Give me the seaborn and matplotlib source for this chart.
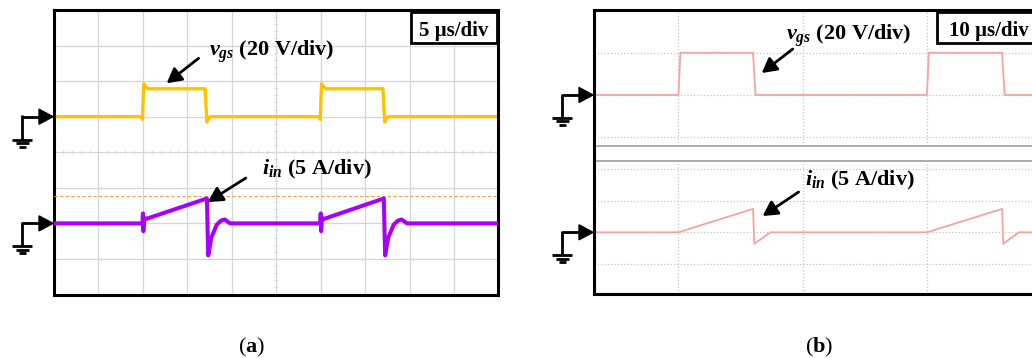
import numpy as np
import matplotlib
matplotlib.use("Agg")
import matplotlib.pyplot as plt
import seaborn as sns
from matplotlib.lines import Line2D
from matplotlib.patches import Polygon, Rectangle
from matplotlib.transforms import IdentityTransform

# ---------------- data ----------------
# (a) experimental waveforms, time in us
t_a_vgs = [0, 9.9, 9.95, 10.0, 10.1, 10.3, 10.6, 17.0, 17.1, 17.2, 17.35, 17.6,
           29.9, 29.95, 30.0, 30.1, 30.3, 30.6, 37.0, 37.1, 37.2, 37.35, 37.6, 50]
vgs_a = [0, 0, -1.5, 6, 18.5, 17, 15.7, 15.7, 6, -3, -1.2, 0,
         0, -1.5, 6, 18.5, 17, 15.7, 15.7, 6, -3, -1.2, 0, 0]          # V

t_a_iin = [0, 9.95, 10.0, 10.05, 10.15, 10.3, 17.2, 17.28, 17.35, 17.7, 18.3, 18.8, 19.2, 19.8,
           29.95, 30.0, 30.05, 30.15, 30.3, 37.1, 37.18, 37.25, 37.6, 38.2, 38.7, 39.1, 39.7, 50]
iin_a = [0, 0, 1.4, -1.1, 0.8, 0.6, 3.5, -1.0, -4.5, -2.0, -0.2, 0.4, 0.55, 0,
         0, 1.4, -1.1, 0.8, 0.6, 3.5, -1.0, -4.5, -2.0, -0.2, 0.4, 0.55, 0, 0]  # A
cursor_a = 3.9  # A

# (b) simulated waveforms
t_b_vgs = [3.2, 10.0, 10.15, 16.0, 16.2, 30.0, 30.15, 36.05, 36.25, 39.1]
vgs_b = [0, 0, 20, 20, 0, 0, 20, 20, 0, 0]
t_b_iin = [3.2, 10.0, 16.0, 16.1, 17.4, 30.0, 36.05, 36.15, 37.4, 39.1]
iin_b = [0, 0, 3.7, -1.8, 0, 0, 3.7, -1.8, 0, 0]

label_vgs = r"$v_{gs}$ (20 V/div)"
label_iin = r"$i_{in}$ (5 A/div)"
scale_a = "5 µs/div"
scale_b = "10 µs/div"
captions = [r"($\mathbf{a}$)", r"($\mathbf{b}$)"]

# ---------------- style ----------------
sns.set_style("white")
plt.rcParams["font.family"] = ["Liberation Serif", "DejaVu Serif"]
plt.rcParams["text.color"] = "black"
plt.rcParams["mathtext.fontset"] = "custom"
plt.rcParams["mathtext.rm"] = "Liberation Serif:bold"
plt.rcParams["mathtext.it"] = "Liberation Serif:italic:bold"
plt.rcParams["mathtext.bf"] = "Liberation Serif:bold"

YELLOW = "#FFC200"
PURPLE = "#A800FF"
PINK = "#F5A3A3"

W, H = 1032, 358
fig = plt.figure(figsize=(W / 100, H / 100), dpi=100)


def px_axes(l, t, r, b, **kw):
    return fig.add_axes([l / W, 1 - b / H, (r - l) / W, (b - t) / H], **kw)


def clean(ax):
    ax.set_xlabel("")
    ax.set_ylabel("")
    ax.tick_params(length=0, labelleft=False, labelbottom=False,
                   labelright=False, labeltop=False)


# ---------------- panel (a) ----------------
ax_a = px_axes(54, 10, 498.5, 294.5)
sns.lineplot(x=t_a_vgs, y=vgs_a, ax=ax_a, color=YELLOW, lw=2.4,
             estimator=None, sort=False)
ax_a.set_xlim(0, 50)
ax_a.set_ylim(-100, 60)
ax_a.set_xticks(np.arange(0, 51, 5))
ax_a.set_yticks(np.arange(-100, 61, 20))
ax_a.grid(True, color="#D6D6D6", lw=0.9)
ax_a.set_axisbelow(True)
# graticule minor marks on the centre lines
ax_a.plot(np.arange(1, 50, 1), np.full(49, -20.0), ls="none", marker="|",
          ms=3.5, mew=0.7, color="#DDDDDD", zorder=0.5)
ax_a.plot(np.full(39, 25.0), np.arange(-96, 60, 4), ls="none", marker="_",
          ms=3.5, mew=0.7, color="#DDDDDD", zorder=0.5)
clean(ax_a)
for s in ax_a.spines.values():
    s.set_color("black")
    s.set_linewidth(2.2)

ax_a2 = ax_a.twinx()
ax_a2.axhline(cursor_a, color="#F2A24E", lw=0.8, ls=(0, (3, 2)))
sns.lineplot(x=t_a_iin, y=iin_a, ax=ax_a2, color=PURPLE, lw=2.9,
             estimator=None, sort=False)
ax_a2.set_ylim(-10, 30)
ax_a2.set_yticks([])
clean(ax_a2)
for s in ax_a2.spines.values():
    s.set_visible(False)

# ---------------- panel (b) ----------------
ax_bt = px_axes(594, 10, 1040, 146)
ax_bb = px_axes(594, 161, 1040, 294)
for ax in (ax_bt, ax_bb):
    ax.set_xlim(3.2, 39.1)
    ax.set_xticks([10, 20, 30])
    ax.grid(True, color="#C4C4C4", lw=0.9, ls=":")
    ax.set_axisbelow(True)
    for s in ax.spines.values():
        s.set_visible(False)

sns.lineplot(x=t_b_vgs, y=vgs_b, ax=ax_bt, color=PINK, lw=1.3,
             estimator=None, sort=False)
ax_bt.set_ylim(-24.2, 40.3)
ax_bt.set_yticks([-20, 0, 20])
ax_bt.spines["bottom"].set_visible(True)
ax_bt.spines["bottom"].set_color("#A6A6A6")
ax_bt.spines["bottom"].set_linewidth(1.3)
clean(ax_bt)

sns.lineplot(x=t_b_iin, y=iin_b, ax=ax_bb, color=PINK, lw=1.3,
             estimator=None, sort=False)
ax_bb.set_ylim(-9.73, 11.25)
ax_bb.set_yticks([-5, 0, 5, 10])
ax_bb.spines["top"].set_visible(True)
ax_bb.spines["top"].set_color("#A6A6A6")
ax_bb.spines["top"].set_linewidth(1.3)
clean(ax_bb)

ax_bf = px_axes(594, 10, 1040, 294)
ax_bf.patch.set_visible(False)
ax_bf.set_xticks([])
ax_bf.set_yticks([])
for s in ax_bf.spines.values():
    s.set_color("black")
    s.set_linewidth(2.2)


# ---------------- ground markers ----------------
def ground(ax, yval):
    x0 = ax.transAxes.transform((0, 0))[0]
    y0 = ax.transData.transform((0, yval))[1]
    lw = 2.8 * 0.72
    xv = x0 - 32
    fig.add_artist(Line2D([xv, x0 - 13], [y0, y0], color="black", lw=lw,
                          transform=IdentityTransform(), solid_capstyle="butt"))
    fig.add_artist(Polygon([(x0 - 15, y0 + 7.5), (x0 - 15, y0 - 7.5), (x0 - 1, y0)],
                           closed=True, color="black", transform=IdentityTransform()))
    fig.add_artist(Line2D([xv, xv], [y0 + 1.4, y0 - 23], color="black", lw=lw,
                          transform=IdentityTransform(), solid_capstyle="butt"))
    for dy, hw in ((23, 10), (26.5, 6.5), (30, 3.5)):
        fig.add_artist(Line2D([xv - hw, xv + hw], [y0 - dy, y0 - dy], color="black",
                              lw=lw, transform=IdentityTransform(),
                              solid_capstyle="butt"))


ground(ax_a, 0)
ground(ax_a2, 0)
ground(ax_bt, 0)
ground(ax_bb, 0)

# ---------------- labels & arrows ----------------
FS = 16
arrow_kw = dict(arrowstyle="-|>,head_length=0.55,head_width=0.3", color="black",
                lw=2.0, shrinkA=0, shrinkB=0, mutation_scale=16)


def ftext(x, y, s, **kw):
    return fig.text(x / W, 1 - y / H, s, color="black", **kw)


ftext(209, 56, label_vgs, ha="left", va="baseline", fontsize=FS, fontweight="bold")
ftext(262, 174, label_iin, ha="left", va="baseline", fontsize=FS, fontweight="bold")
ftext(786, 40, label_vgs, ha="left", va="baseline", fontsize=FS, fontweight="bold")
ftext(805, 185, label_iin, ha="left", va="baseline", fontsize=FS, fontweight="bold")

ax_a.annotate("", xy=(12.67, 18.8), xytext=(32, 25), textcoords="offset pixels",
              arrowprops=arrow_kw)
ax_a2.annotate("", xy=(17.3, 3.0), xytext=(38, 24), textcoords="offset pixels",
               arrowprops=arrow_kw)
ax_bt.annotate("", xy=(16.7, 10.4), xytext=(31, 24), textcoords="offset pixels",
               arrowprops=arrow_kw, annotation_clip=False)
ax_bb.annotate("", xy=(16.77, 2.57), xytext=(36, 24), textcoords="offset pixels",
               arrowprops=arrow_kw, annotation_clip=False)

# scale boxes
for (l, r, tx, ha, txt) in ((411, 497, 454, "center", scale_a),
                            (937, 1050, 949, "left", scale_b)):
    fig.add_artist(Rectangle((l / W, 1 - 43 / H), (r - l) / W, 31 / H,
                             transform=fig.transFigure, facecolor="white",
                             edgecolor="black", lw=2.0, zorder=5))
    ftext(tx, 36, txt, ha=ha, va="baseline", fontsize=15, fontweight="bold", zorder=6)

# captions
ftext(252, 352, captions[0], ha="center", va="baseline", fontsize=16)
ftext(819, 352, captions[1], ha="center", va="baseline", fontsize=16)

fig.savefig("out.png", dpi=100)
